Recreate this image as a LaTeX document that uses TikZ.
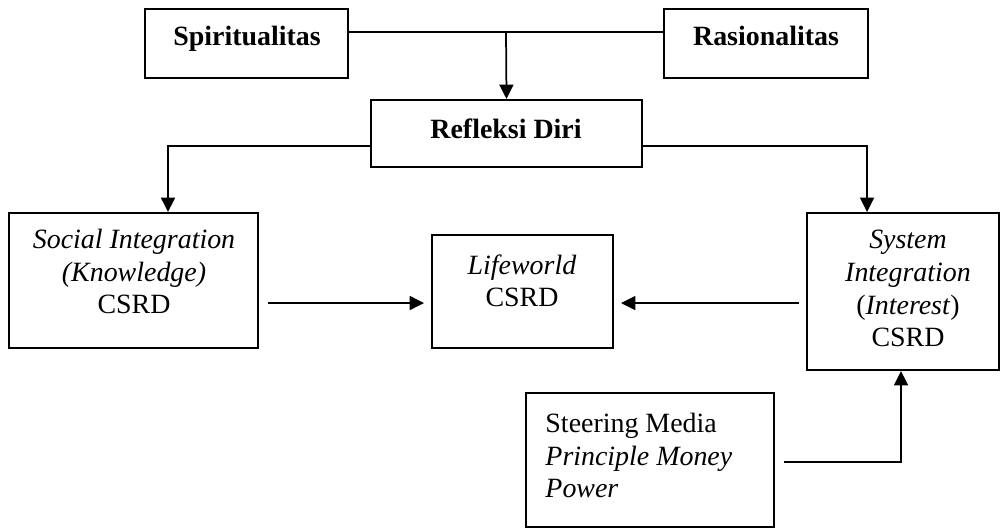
\documentclass[tikz,border=0pt]{standalone}
\usepackage{fontspec}
\setmainfont{Liberation Serif}
\usetikzlibrary{positioning,fit,arrows.meta}

\begin{document}
\begin{tikzpicture}[x=0.43pt,y=-0.43pt,
    box/.style={draw,line width=0.85pt,inner sep=0pt,fit={#1}},
    txt/.style={anchor=north,align=center,inner sep=0pt,font=\fontsize{12}{14}\selectfont},
    bold/.style={txt,font=\fontsize{12}{14}\selectfont\bfseries},
    line/.style={line width=0.75pt},
    arr/.style={line,-{Triangle[length=6.2pt,width=6pt]}}]
    \useasboundingbox (0,0) rectangle (1001,529);
    % kotak
    \node[box={(145,9) (348,78)}] (spirit) {};
    \node[box={(664,9) (868,78)}] (rasio) {};
    \node[box={(371,100) (642,167)}] (refleksi) {};
    \node[box={(9,213) (258,348)}] (social) {};
    \node[box={(432,235) (613,348)}] (life) {};
    \node[box={(807,213) (999,370)}] (system) {};
    \node[box={(526,393) (774,527)}] (steer) {};
    % teks
    \node[bold] (spirittxt) at (247,26) {Spiritualitas};
    \node[bold] (rasiotxt) at (766,26) {Rasionalitas};
    \node[bold] (refleksitxt) at (506,118) {Refleksi Diri};
    \node[txt] (socialtxt) at (134,229) {\textit{Social Integration}\\\textit{(Knowledge)}\\CSRD};
    \node[txt] (lifetxt) at (522,254) {\textit{Lifeworld}\\CSRD};
    \node[txt] (systemtxt) at (908,230) {\textit{System}\\\textit{Integration}\\(\textit{Interest})\\CSRD};
    \node[txt,anchor=north west,align=left] (steertxt) at (545,413) {Steering Media\\\textit{Principle Money}\\\textit{Power}};
    % garis
    \coordinate (split) at (506,32);
    \coordinate (lknee) at (168,146);
    \coordinate (rknee) at (867,146);
    \coordinate (mid) at (0,303);
    \coordinate (sknee) at (901,462);
    \draw[line] (spirit.east |- split) -- (rasio.west |- split);
    \draw[arr] (split) -- (refleksi.north);
    \draw[arr] (refleksi.west |- lknee) -- (lknee) -- (lknee |- social.north);
    \draw[arr] (refleksi.east |- rknee) -- (rknee) -- (rknee |- system.north);
    \draw[arr,shorten <=4pt,shorten >=3pt] (social.east |- mid) -- (life.west |- mid);
    \draw[arr,shorten <=3pt,shorten >=3pt] (system.west |- mid) -- (life.east |- mid);
    \draw[arr,shorten <=4pt] (steer.east |- sknee) -- (sknee) -- (sknee |- system.south);
\end{tikzpicture}
\end{document}
